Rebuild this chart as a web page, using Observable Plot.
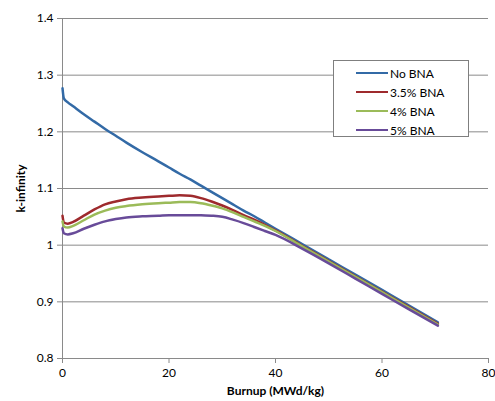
<!DOCTYPE html>
<html>
<head>
<meta charset="utf-8">
<script src="https://cdn.jsdelivr.net/npm/d3@7"></script>
<script src="https://cdn.jsdelivr.net/npm/@observablehq/plot@0.6"></script>
<style>
  body { margin: 0; background: #fff; }
  #wrap { position: relative; width: 495px; height: 401px; font-family: Lato, "Open Sans", sans-serif; }
  svg [aria-label="y-axis label"] text, svg [aria-label="x-axis label"] text { font-weight: bold; }
  #legend { position: absolute; left: 333px; top: 60px; width: 136px; height: 77px; background: #fff;
    border: 1px solid #7f7f7f; box-sizing: border-box; font-size: 12px; color: #000; }
  .row { position: absolute; left: 22px; height: 14px; display: flex; align-items: center; }
  .sw { width: 32px; height: 2px; margin-right: 2px; }
</style>
</head>
<body>
<div id="wrap"></div>
<script>
const burnup = [0, 0.25, 1, 2, 4, 6, 8, 10, 12, 15, 18, 20, 22, 24, 26, 28, 30, 32, 34, 36, 38, 40, 45, 50, 55, 60, 65, 70.5];
const noBNA  = [1.277, 1.259, 1.252, 1.245, 1.231, 1.218, 1.205, 1.193, 1.181, 1.164, 1.148, 1.137, 1.126, 1.116, 1.105, 1.094, 1.083, 1.072, 1.061, 1.051, 1.040, 1.029, 1.002, 0.975, 0.948, 0.921, 0.894, 0.864];
const bna35  = [1.052, 1.040, 1.038, 1.041, 1.052, 1.063, 1.072, 1.077, 1.081, 1.084, 1.086, 1.087, 1.088, 1.087, 1.083, 1.077, 1.070, 1.062, 1.053, 1.045, 1.036, 1.026, 0.999, 0.972, 0.945, 0.918, 0.891, 0.861];
const bna4   = [1.042, 1.033, 1.031, 1.034, 1.044, 1.054, 1.061, 1.066, 1.069, 1.072, 1.074, 1.075, 1.076, 1.076, 1.074, 1.070, 1.065, 1.058, 1.050, 1.042, 1.034, 1.025, 0.998, 0.971, 0.944, 0.917, 0.890, 0.860];
const bna5   = [1.030, 1.021, 1.019, 1.021, 1.029, 1.036, 1.042, 1.046, 1.049, 1.051, 1.052, 1.053, 1.053, 1.053, 1.053, 1.052, 1.050, 1.045, 1.039, 1.032, 1.025, 1.018, 0.994, 0.968, 0.941, 0.914, 0.887, 0.858];
const seriesNames = ["No BNA", "3.5% BNA", "4% BNA", "5% BNA"];
const seriesColors = ["#336aa6", "#9e2a2d", "#9bbb59", "#684b99"];
const xTicks = [0, 20, 40, 60, 80];
const yTicks = [0.8, 0.9, 1.0, 1.1, 1.2, 1.3, 1.4];

const allSeries = [noBNA, bna35, bna4, bna5];
const data = [];
allSeries.forEach((vals, si) => vals.forEach((v, i) => data.push({series: seriesNames[si], x: burnup[i], y: v})));

const chart = Plot.plot({
  width: 495, height: 401,
  marginLeft: 62, marginRight: 7, marginTop: 18, marginBottom: 43,
  style: {fontFamily: "Lato, 'Open Sans', sans-serif", fontSize: "12px", color: "#000", background: "#fff"},
  x: {domain: [0, 80]},
  y: {domain: [0.8, 1.4]},
  color: {domain: seriesNames, range: seriesColors},
  marks: [
    Plot.ruleY(yTicks.slice(1), {stroke: "#8a8a8a", strokeWidth: 1}),
    Plot.ruleX([0], {stroke: "#8a8a8a"}),
    Plot.ruleY([0.8], {stroke: "#8a8a8a"}),
    Plot.axisY(yTicks, {tickSize: 5, tickPadding: 4, stroke: "#8a8a8a", fill: "#000", fontSize: 12,
      tickFormat: d => String(+d.toFixed(1)), label: "k-infinity", labelAnchor: "center", labelArrow: "none", labelOffset: 46}),
    Plot.axisX(xTicks, {tickSize: 5, tickPadding: 5, stroke: "#8a8a8a", fill: "#000", fontSize: 12,
      label: "Burnup (MWd/kg)", labelAnchor: "center", labelArrow: "none", labelOffset: 36}),
    Plot.line(data, {x: "x", y: "y", z: "series", stroke: "series", strokeWidth: 2.5, curve: "monotone-x"})
  ]
});
const wrap = document.getElementById("wrap");
wrap.appendChild(chart);

const legend = document.createElement("div");
legend.id = "legend";
seriesNames.forEach((name, i) => {
  const row = document.createElement("div");
  row.className = "row";
  row.style.top = (5 + i * 19) + "px";
  const sw = document.createElement("span");
  sw.className = "sw";
  sw.style.background = seriesColors[i];
  const t = document.createElement("span");
  t.textContent = name;
  row.appendChild(sw); row.appendChild(t);
  legend.appendChild(row);
});
wrap.appendChild(legend);
</script>
</body>
</html>
